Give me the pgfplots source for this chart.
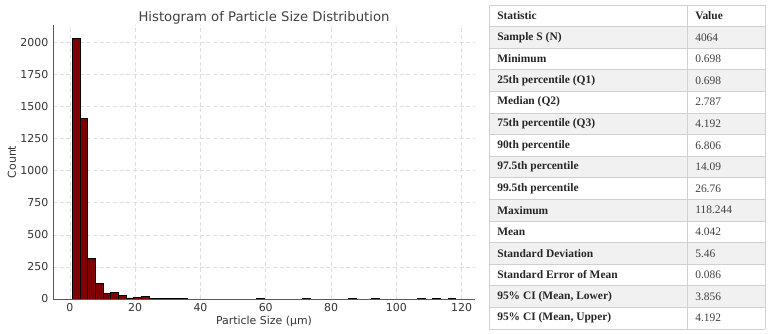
\documentclass[border=0pt]{standalone}
\usepackage{fontspec}
\setmainfont{DejaVu Sans}
\newfontfamily\tabfont{Liberation Serif}
\usepackage{pgfplots}
\pgfplotsset{compat=1.18}
\definecolor{barred}{HTML}{800000}
\definecolor{rowgray}{HTML}{F1F1F1}
\definecolor{tabline}{HTML}{D0D0D0}
\newcommand{\tfs}{\tabfont\fontsize{8.6}{10}\selectfont}
\newcommand{\trow}[3]{%
  \node[anchor=west,inner sep=0pt,text=black!85,font=\tfs\bfseries] at (497,{329-21.6*(#1+0.5)}) {#2};
  \node[anchor=west,inner sep=0pt,text=black!75,font=\tfs] at (695,{329-21.6*(#1+0.5)}) {#3};}
\begin{document}
\begin{tikzpicture}
\path[use as bounding box] (0pt,0pt) rectangle (578.25pt,250.5pt);
\begin{axis}[
  at={(39.75pt,26.25pt)}, anchor=south west, scale only axis,
  width=316.5pt, height=205.5pt,
  xmin=-5.18, xmax=124.12, ymin=0, ymax=2135,
  axis x line*=bottom, axis y line*=left,
  axis line style={black!65, -},
  xtick={0,20,...,120}, ytick={0,250,...,2000},
  major tick length=0pt,
  grid=major,
  major grid style={densely dashed, black!13, line width=0.4pt},
  /pgf/number format/1000 sep={},
  /pgf/number format/assume math mode=true,
  ticklabel style={font=\fontsize{8.2}{10}\selectfont, text=black!80},
  xticklabel style={yshift=0pt},
  title={Histogram of Particle Size Distribution},
  title style={font=\fontsize{9.9}{11}\selectfont, text=black!75, yshift=-9pt},
  xlabel={Particle Size (µm)}, ylabel={Count},
  label style={font=\fontsize{8.2}{10}\selectfont, text=black!80},
  xlabel style={yshift=3.5pt},
  ylabel style={yshift=-3.5pt},
]
\addplot[ybar interval, fill=barred, draw=black, line width=0.5pt] table {
x y
0.698 2030
3.049 1407
5.400 314
7.751 120
10.102 44
12.453 54
14.804 30
17.154 8
19.505 13
21.856 19
24.207 4
26.558 7
28.909 3
31.260 2
33.611 2
35.962 0
};
\addplot[ybar interval, fill=barred, draw=black, line width=0.7pt] table {
x y
57.120 1
59.471 1
};
\addplot[ybar interval, fill=barred, draw=black, line width=0.7pt] table {
x y
71.226 1
73.577 1
};
\addplot[ybar interval, fill=barred, draw=black, line width=0.7pt] table {
x y
85.331 1
87.682 1
};
\addplot[ybar interval, fill=barred, draw=black, line width=0.7pt] table {
x y
92.384 1
94.735 1
};
\addplot[ybar interval, fill=barred, draw=black, line width=0.7pt] table {
x y
106.489 1
108.840 1
};
\addplot[ybar interval, fill=barred, draw=black, line width=0.7pt] table {
x y
111.191 1
113.542 1
};
\addplot[ybar interval, fill=barred, draw=black, line width=0.7pt] table {
x y
115.893 1
118.244 1
};
\end{axis}
\begin{scope}[x=0.75pt,y=0.75pt]
\foreach \i in {1,3,...,13} {
  \fill[rowgray] (489,{329-21.6*\i}) rectangle (765,{329-21.6*(\i+1)});
}
\foreach \i in {0,...,15} {
  \draw[tabline, line width=0.6pt] (489,{329-21.6*\i}) -- (765,{329-21.6*\i});
}
\draw[tabline, line width=0.6pt] (489,5) -- (489,329);
\draw[tabline, line width=0.6pt] (687.7,5) -- (687.7,329);
\draw[tabline, line width=0.6pt] (765,5) -- (765,329);
\node[anchor=west,inner sep=0pt,text=black!85,font=\tfs\bfseries] at (497,{329-21.6*0.5}) {Statistic};
\node[anchor=west,inner sep=0pt,text=black!85,font=\tfs\bfseries] at (695,{329-21.6*0.5}) {Value};
\trow{1}{Sample S (N)}{4064}
\trow{2}{Minimum}{0.698}
\trow{3}{25th percentile (Q1)}{0.698}
\trow{4}{Median (Q2)}{2.787}
\trow{5}{75th percentile (Q3)}{4.192}
\trow{6}{90th percentile}{6.806}
\trow{7}{97.5th percentile}{14.09}
\trow{8}{99.5th percentile}{26.76}
\trow{9}{Maximum}{118.244}
\trow{10}{Mean}{4.042}
\trow{11}{Standard Deviation}{5.46}
\trow{12}{Standard Error of Mean}{0.086}
\trow{13}{95\% CI (Mean, Lower)}{3.856}
\trow{14}{95\% CI (Mean, Upper)}{4.192}
\end{scope}
\end{tikzpicture}
\end{document}
